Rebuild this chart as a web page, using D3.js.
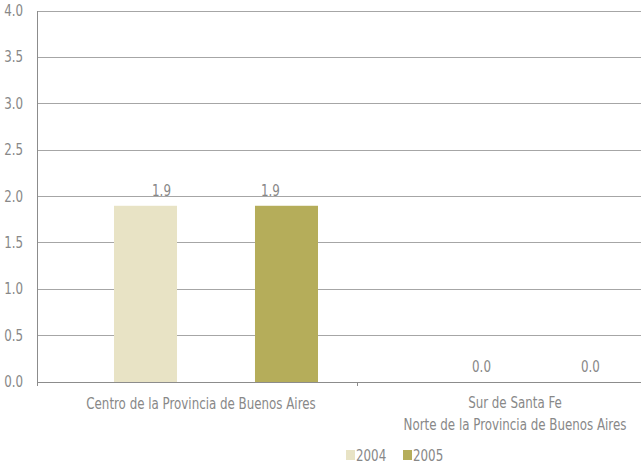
<!DOCTYPE html>
<html><head><meta charset="utf-8">
<script src="https://cdn.jsdelivr.net/npm/d3@7"></script>
<style>
body{margin:0;background:#fff;}
text{font-family:"Liberation Sans Narrow","DejaVu Sans Condensed",sans-serif;fill:#888;font-size:15px;}
</style></head>
<body><svg id="c" width="641" height="466"></svg>
<script>
const categories = [["Centro de la Provincia de Buenos Aires"], ["Sur de Santa Fe","Norte de la Provincia de Buenos Aires"]];
const series = ["2004","2005"];
const values2004 = [1.9, 0.0];
const values2005 = [1.9, 0.0];
const yTicks = [0,0.5,1,1.5,2,2.5,3,3.5,4];
const colors = ["#e8e3c5","#b5ad5a"];

(function(){
const svg = d3.select("#c");
const SX = 0.88;
const mLeft=37, mTop=11, mBottom=382, mRight=677;
const y = d3.scaleLinear().domain([0,4]).range([mBottom, mTop]);
const x = d3.scaleBand().domain(d3.range(categories.length)).range([mLeft,mRight]).padding(0);
const xs = d3.scaleBand().domain(series).range([77,281]).paddingInner(0.553).paddingOuter(0);
const tr = (px,py)=>`translate(${px},${py}) scale(${SX},1)`;

svg.append("g").selectAll("line").data(yTicks.filter(d=>d>0)).join("line")
  .attr("x1",mLeft).attr("x2",641).attr("y1",d=>y(d)).attr("y2",d=>y(d))
  .attr("stroke","#a6a6a6").attr("stroke-width",1).attr("shape-rendering","crispEdges");

svg.append("g").selectAll("text").data(yTicks).join("text")
  .attr("transform",d=>tr(23,y(d)+5)).attr("text-anchor","end")
  .text(d=>d.toFixed(1));

const data = [values2004, values2005];
series.forEach((s,si)=>{
  const g = svg.append("g");
  g.selectAll("rect").data(data[si]).join("rect")
    .attr("x",(d,i)=>x(i)+xs(s)).attr("width",xs.bandwidth())
    .attr("y",d=>y(d)).attr("height",d=>mBottom-y(d)).attr("fill",colors[si]);
  const off = si===0?16:-16;
  g.selectAll("text").data(data[si]).join("text")
    .attr("transform",(d,i)=>tr(x(i)+xs(s)+xs.bandwidth()/2+off, y(d)-10))
    .attr("text-anchor","middle").text(d=>d.toFixed(1));
});

svg.append("line").attr("x1",mLeft).attr("x2",641).attr("y1",mBottom).attr("y2",mBottom)
  .attr("stroke","#8c8c8c").attr("shape-rendering","crispEdges");
svg.append("line").attr("x1",mLeft).attr("x2",mLeft).attr("y1",mTop).attr("y2",mBottom+4)
  .attr("stroke","#8c8c8c").attr("shape-rendering","crispEdges");
svg.append("g").selectAll("line").data(d3.range(1,categories.length)).join("line")
  .attr("x1",d=>x(d)).attr("x2",d=>x(d)).attr("y1",mBottom).attr("y2",mBottom+4)
  .attr("stroke","#8c8c8c").attr("shape-rendering","crispEdges");

categories.forEach((lines,i)=>{
  lines.forEach((l,li)=>{
    svg.append("text").attr("text-anchor","middle")
      .attr("transform", tr(x(i)+x.bandwidth()/2 + (i===0?4:-2), i===0?409:408+li*22))
      .text(l);
  });
});

const lx=[346,403];
series.forEach((s,i)=>{
  svg.append("rect").attr("x",lx[i]).attr("y",450).attr("width",9).attr("height",10).attr("fill",colors[i]);
  svg.append("text").attr("transform",tr(lx[i]+10,461)).text(s);
});
})();
</script></body></html>
